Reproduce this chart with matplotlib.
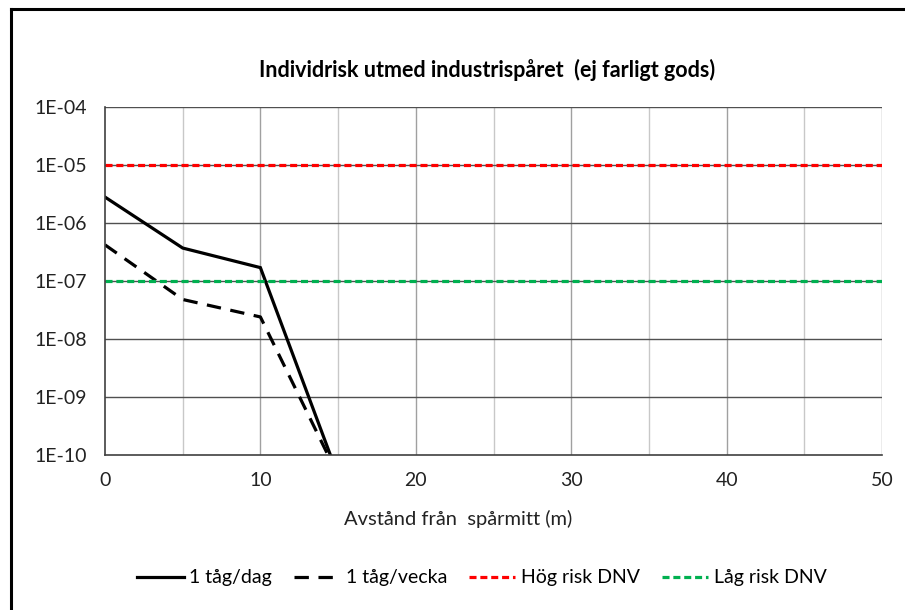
import numpy as np
import matplotlib
matplotlib.use("Agg")
from matplotlib import pyplot as plt
from matplotlib.lines import Line2D

plt.rcParams['font.family'] = ['Lato', 'DejaVu Sans']

# avstånd från spårmitt (m)
dist = [0, 5, 10, 15]
risk_dag = [2.8e-6, 3.7e-7, 1.7e-7, 4.4e-11]
risk_vecka = [4.2e-7, 4.8e-8, 2.4e-8, 4.4e-11]
# DNV kriterier
dnv_x = [0, 50]
hog_risk = [1e-5, 1e-5]
lag_risk = [1e-7, 1e-7]

y_ticks = [1e-10, 1e-9, 1e-8, 1e-7, 1e-6, 1e-5, 1e-4]
y_labels = ['1E-10', '1E-09', '1E-08', '1E-07', '1E-06', '1E-05', '1E-04']
x_ticks = [0, 10, 20, 30, 40, 50]

fig = plt.figure(figsize=(9.05, 6.10), dpi=100)
ax = fig.add_axes([105/905, 1-455/610, (882-105)/905, (455-107)/610])

ax.set_yscale('log')
ax.set_xlim(0, 50)
ax.set_ylim(1e-10, 1e-4)

# grid like excel
for xv in np.arange(5, 50, 10):
	ax.axvline(xv, color='#c8c8c8', lw=1, zorder=0)
for xv in np.arange(10, 51, 10):
	ax.axvline(xv, color='#a0a0a0', lw=1, zorder=0)
for yv in y_ticks[1:]:
	ax.axhline(yv, color='#505050', lw=1, zorder=0)

ax.plot(dist, risk_dag, color='black', lw=2.3, label='1 tåg/dag', solid_joinstyle='miter')
ax.plot(dist, risk_vecka, color='black', lw=2.3, ls=(0, (4.5, 3)), label='1 tåg/vecka')
ax.plot(dnv_x, hog_risk, color='#ff0000', lw=2.3, ls=(0, (2.2, 1.2)), label='Hög risk DNV')
ax.plot(dnv_x, lag_risk, color='#00b050', lw=2.3, ls=(0, (2.2, 1.2)), label='Låg risk DNV')

ax.set_yticks(y_ticks)
ax.set_yticklabels(y_labels)
ax.yaxis.set_minor_locator(matplotlib.ticker.NullLocator())
ax.set_xticks(x_ticks)
ax.tick_params(length=0, labelsize=14, colors='#222222', pad=13)
ax.tick_params(axis='x', pad=12)

for s in ['top', 'right']:
	ax.spines[s].set_visible(False)
ax.spines['left'].set_color('#404040')
ax.spines['bottom'].set_color('#404040')
ax.spines['left'].set_linewidth(1.2)
ax.spines['bottom'].set_linewidth(1.2)

fig.text(487/905, 1-70/610, 'Individrisk utmed industrispåret  (ej farligt gods)',
	ha='center', va='center', fontsize=15.5, fontweight='bold')
fig.text(458/905, 1-519/610, 'Avstånd från  spårmitt (m)', ha='center', va='center',
	fontsize=14.5, color='#222222')

fig.legend(loc='center', bbox_to_anchor=(482/905, 1-578/610), ncol=4, frameon=False,
	fontsize=14, handlelength=2.4, columnspacing=1.1, handletextpad=0.3)

# chart frame
fig.add_artist(Line2D([11/905, 11/905], [0, 1-9/610], color='black', lw=2.2))
fig.add_artist(Line2D([11/905, 1], [1-9/610, 1-9/610], color='black', lw=2.2))

fig.savefig('out.png', dpi=100)
